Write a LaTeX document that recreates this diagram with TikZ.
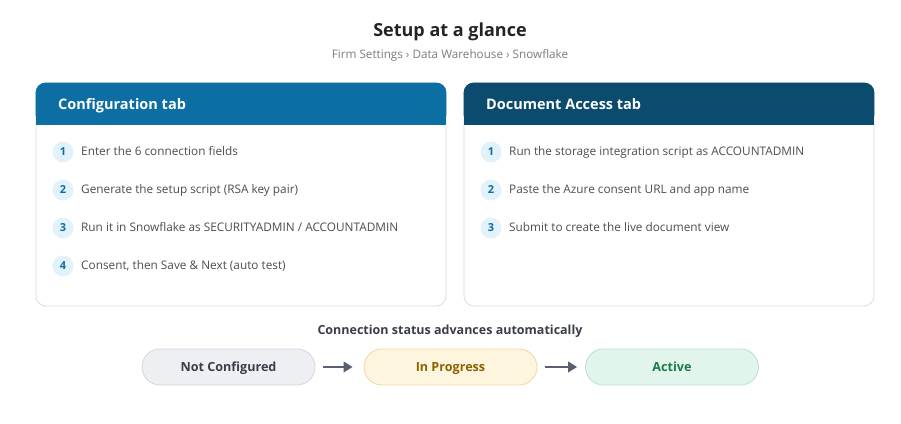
\documentclass[tikz,border=0pt]{standalone}
\usepackage{fontspec}
\setmainfont{Open Sans}
\usepackage{tikz}
\usetikzlibrary{arrows.meta}
\definecolor{titlegray}{HTML}{222428}
\definecolor{crumbgray}{HTML}{7A7D82}
\definecolor{bodygray}{HTML}{4A4D52}
\definecolor{cardline}{HTML}{DADCE0}
\definecolor{cfgblue}{HTML}{0D6EA3}
\definecolor{docblue}{HTML}{0B4B6E}
\definecolor{dotfill}{HTML}{E2F2FA}
\definecolor{dotnum}{HTML}{0D6EA3}
\definecolor{labelgray}{HTML}{3A3E48}
\definecolor{ncfill}{HTML}{EEEFF3}
\definecolor{ncline}{HTML}{D4D6DD}
\definecolor{ipfill}{HTML}{FDF5DD}
\definecolor{ipline}{HTML}{EFD9A2}
\definecolor{iptext}{HTML}{8A6200}
\definecolor{acfill}{HTML}{E1F5EC}
\definecolor{acline}{HTML}{B6E2CD}
\definecolor{actext}{HTML}{1D7A47}
\definecolor{arrowgray}{HTML}{5B6070}
\tikzset{
  card/.style={draw=cardline, line width=0.8pt, fill=white, rounded corners=10pt,
    minimum width=410pt, minimum height=223pt, inner sep=0pt},
  headtxt/.style={anchor=west, inner sep=0pt, text=white, text height=10pt, text depth=1pt,
    font=\fontsize{14.5}{16}\selectfont\bfseries},
  numdot/.style={circle, fill=dotfill, minimum size=21pt, inner sep=0pt,
    text=dotnum, font=\fontsize{11}{13}\selectfont\bfseries},
  steptxt/.style={anchor=west, inner sep=0pt, text=bodygray, text height=8.5pt, text depth=1pt,
    font=\fontsize{11.8}{14}\selectfont},
  pill/.style={rounded corners=18pt, line width=0.8pt, minimum width=173pt, minimum height=36pt,
    inner sep=0pt, text height=9pt, text depth=1pt, font=\fontsize{12.6}{14}\selectfont\bfseries},
  statusarrow/.style={draw=arrowgray, line width=2.2pt, -{Triangle[length=9pt,width=10.5pt]}}
}
\begin{document}
\begin{tikzpicture}[x=1pt,y=-1pt]
  \useasboundingbox[fill=white] (0,0) rectangle (901,423);
  % title and path
  \node[text=titlegray, font=\fontsize{18}{20}\selectfont\bfseries] (title) at (450,32) {Setup at a glance};
  \node[text=crumbgray, font=\fontsize{11.7}{13}\selectfont] (crumb) at (450,55)
    {Firm Settings › Data Warehouse › Snowflake};
  % the two cards
  \node[card] (cfg) at (241,194.5) {};
  \node[card] (doc) at (669,194.5) {};
  \fill[cfgblue, rounded corners=10pt] (cfg.north west) rectangle ([yshift=-42pt]cfg.north east);
  \fill[cfgblue] ([yshift=-20pt]cfg.north west) rectangle ([yshift=-42pt]cfg.north east);
  \fill[docblue, rounded corners=10pt] (doc.north west) rectangle ([yshift=-42pt]doc.north east);
  \fill[docblue] ([yshift=-20pt]doc.north west) rectangle ([yshift=-42pt]doc.north east);
  \node[headtxt] (cfghead) at (58,105) {Configuration tab};
  \node[headtxt] (dochead) at (486,105) {Document Access tab};
  % steps of the configuration tab
  \foreach \n/\y/\txt in {
      1/152/{Enter the 6 connection fields},
      2/190/{Generate the setup script (RSA key pair)},
      3/228/{Run it in Snowflake as SECURITYADMIN / ACCOUNTADMIN},
      4/266/{Consent, then Save \& Next (auto test)}} {
    \node[numdot] (cfgdot\n) at (63,\y) {\n};
    \node[steptxt] (cfgstep\n) at (81,\y) {\txt};
  }
  % steps of the document access tab
  \foreach \n/\y/\txt in {
      1/152/{Run the storage integration script as ACCOUNTADMIN},
      2/190/{Paste the Azure consent URL and app name},
      3/228/{Submit to create the live document view}} {
    \node[numdot] (docdot\n) at (491,\y) {\n};
    \node[steptxt] (docstep\n) at (509,\y) {\txt};
  }
  % status row
  \node[text=labelgray, font=\fontsize{12.5}{14}\selectfont\bfseries] (statlabel) at (450,331)
    {Connection status advances automatically};
  \node[pill, draw=ncline, fill=ncfill, text=labelgray] (notconf) at (228.5,367) {Not Configured};
  \node[pill, draw=ipline, fill=ipfill, text=iptext] (inprog) at (450.5,367) {In Progress};
  \node[pill, draw=acline, fill=acfill, text=actext] (active) at (672,367) {Active};
  \draw[statusarrow, shorten <=8pt, shorten >=11pt] (notconf) -- (inprog);
  \draw[statusarrow, shorten <=8pt, shorten >=8pt] (inprog) -- (active);
\end{tikzpicture}
\end{document}
